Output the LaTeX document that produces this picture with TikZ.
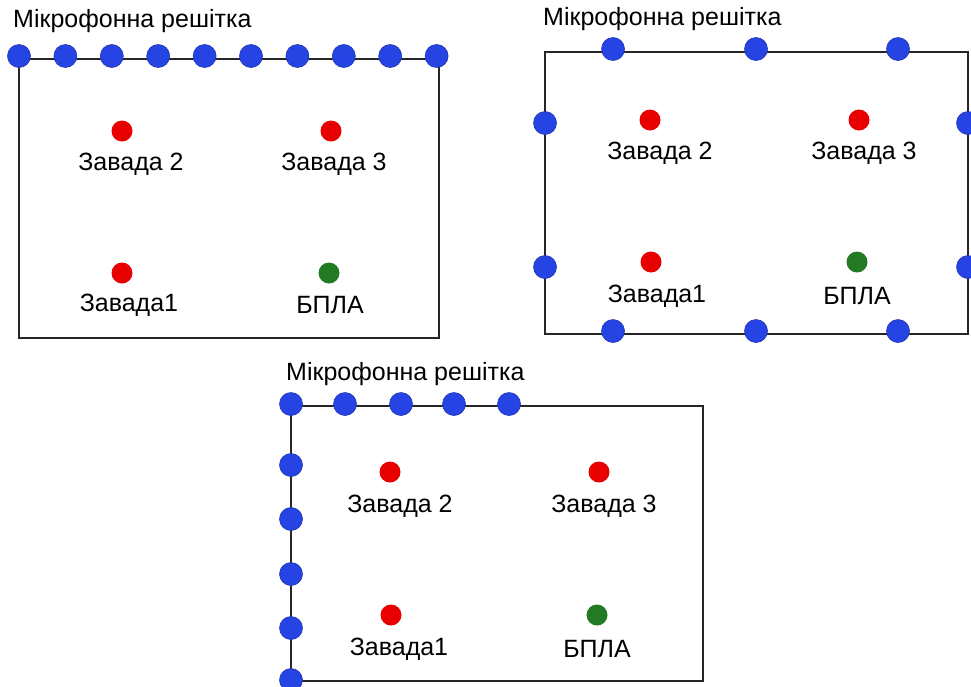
\documentclass[tikz,border=0pt]{standalone}
\usepackage{fontspec}
\setmainfont{Liberation Sans}
\definecolor{micblue}{RGB}{38,68,228}
\definecolor{noisered}{RGB}{232,0,0}
\definecolor{uavgreen}{RGB}{34,122,34}
\begin{document}
\begin{tikzpicture}[x=1pt,y=-1pt,
  mic/.style={circle,fill=micblue,draw=micblue!80!black,line width=0.6pt,minimum size=23pt,inner sep=0pt},
  src/.style={circle,fill=#1,minimum size=21pt,inner sep=0pt},
  lbl/.style={font=\fontsize{25}{29}\selectfont,inner sep=0pt},
  ttl/.style={font=\fontsize{25}{29}\selectfont,inner sep=0pt,anchor=west},
  edge/.style={draw=black!85,line width=2pt}]
\useasboundingbox (0,0) rectangle (971,686);

% ---- panel 1: linear array along the top side ----
\coordinate (a-tl) at (19,59);
\coordinate (a-tr) at (439,59);
\coordinate (a-br) at (439,338);
\coordinate (a-bl) at (19,338);
\draw[edge] (a-tl) -- (a-tr) -- (a-br) -- (a-bl) -- cycle;
\node[ttl] (a-title) at (13,21) {Мікрофонна решітка};
\node[src=noisered] (a-n2) at (122,131) {};
\node[lbl] (a-l2) at (131,164) {Завада 2};
\node[src=noisered] (a-n3) at (331,131) {};
\node[lbl] (a-l3) at (334,164) {Завада 3};
\node[src=noisered] (a-n1) at (122,273) {};
\node[lbl] (a-l1) at (129,305) {Завада1};
\node[src=uavgreen] (a-u) at (329,273) {};
\node[lbl] (a-lu) at (330,305) {БПЛА};
\foreach \i in {0,...,9}
  \node[mic] (a-m\i) at ({19+\i*46.4},56) {};

% ---- panel 2: mics distributed around the perimeter ----
\coordinate (b-tl) at (545,52);
\coordinate (b-tr) at (968,52);
\coordinate (b-br) at (968,334);
\coordinate (b-bl) at (545,334);
\draw[edge] (b-tl) -- (b-tr) -- (b-br) -- (b-bl) -- cycle;
\node[ttl] (b-title) at (543,19) {Мікрофонна решітка};
\node[src=noisered] (b-n2) at (650,120) {};
\node[lbl] (b-l2) at (660,153) {Завада 2};
\node[src=noisered] (b-n3) at (859,120) {};
\node[lbl] (b-l3) at (864,153) {Завада 3};
\node[src=noisered] (b-n1) at (651,262) {};
\node[lbl] (b-l1) at (657,296) {Завада1};
\node[src=uavgreen] (b-u) at (857,262) {};
\node[lbl] (b-lu) at (857,296) {БПЛА};
\foreach \x [count=\k] in {613,756,898} {
  \node[mic] (b-t\k) at (\x,49) {};
  \node[mic] (b-b\k) at (\x,331) {};
}
\foreach \y [count=\k] in {123,267} {
  \node[mic] (b-l\k) at (545,\y) {};
  \node[mic] (b-r\k) at (968,\y) {};
}

% ---- panel 3: L-shaped array on top and left sides ----
\coordinate (c-tl) at (291,406);
\coordinate (c-tr) at (703,406);
\coordinate (c-br) at (703,681);
\coordinate (c-bl) at (291,681);
\draw[edge] (c-tl) -- (c-tr) -- (c-br) -- (c-bl) -- cycle;
\node[ttl] (c-title) at (286,374) {Мікрофонна решітка};
\node[src=noisered] (c-n2) at (390,472) {};
\node[lbl] (c-l2) at (400,506) {Завада 2};
\node[src=noisered] (c-n3) at (599,472) {};
\node[lbl] (c-l3) at (604,506) {Завада 3};
\node[src=noisered] (c-n1) at (391,615) {};
\node[lbl] (c-l1) at (399,649) {Завада1};
\node[src=uavgreen] (c-u) at (597,615) {};
\node[lbl] (c-lu) at (597,649) {БПЛА};
\foreach \x [count=\k] in {345,401,454,509}
  \node[mic] (c-t\k) at (\x,404) {};
\foreach \y [count=\k] in {404,465,519,574,628,680}
  \node[mic] (c-s\k) at (291,\y) {};
\end{tikzpicture}
\end{document}
